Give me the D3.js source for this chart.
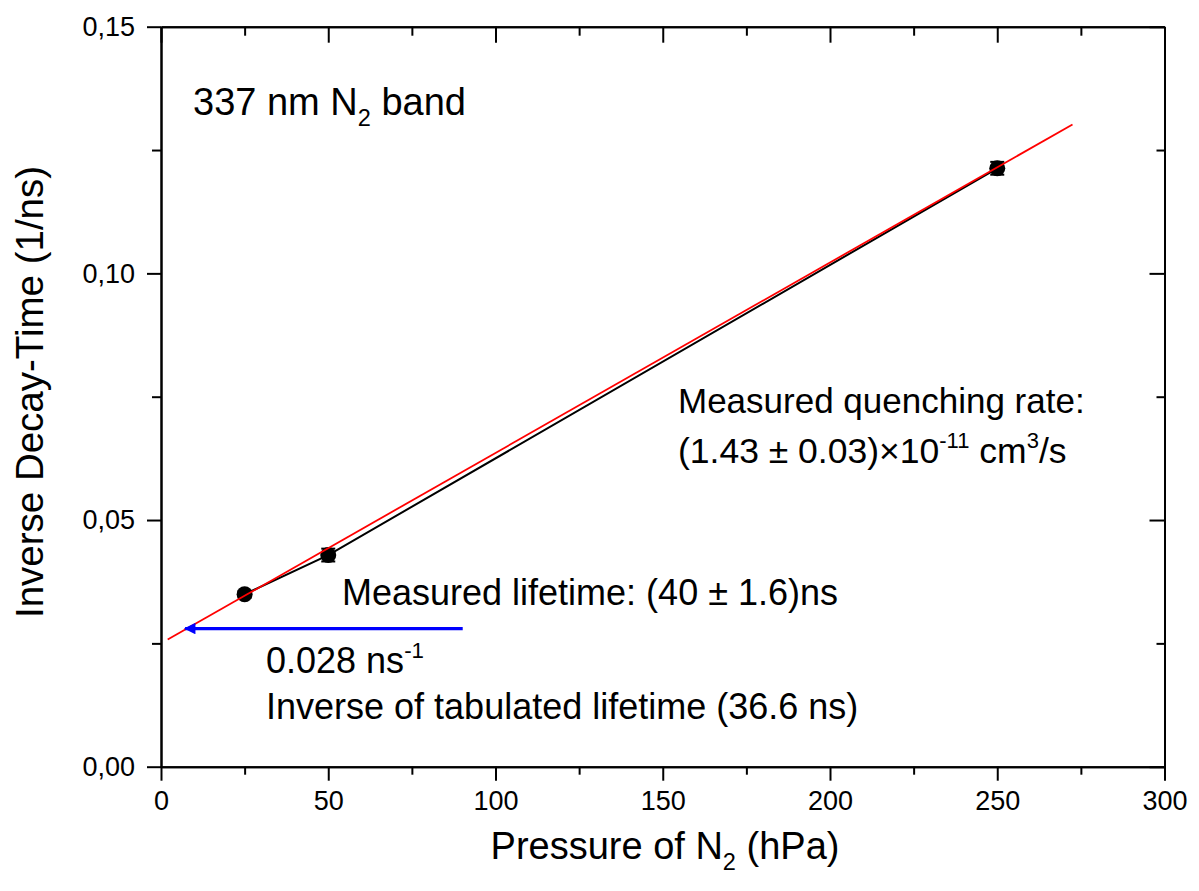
<!DOCTYPE html>
<html>
<head>
<meta charset="utf-8">
<script src="https://cdn.jsdelivr.net/npm/d3@7"></script>
<style>
  html, body { margin: 0; padding: 0; background: #fff; }
  svg { display: block; font-family: "Liberation Sans", Arial, sans-serif; }
</style>
</head>
<body>
<svg id="chart" width="1199" height="891"></svg>
<script>
// Measured inverse decay times of the 337 nm N2 band
const pressure = [25, 50, 250];              // hPa
const inverseDecay = [0.03495, 0.0429, 0.1213]; // 1/ns
const decayError = [0.0007, 0.0013, 0.0013];

// Linear (Stern-Volmer) fit: intercept = 1/40 ns
const fitIntercept = 0.025;
const fitSlope = 0.000386;
const fitRange = [2, 272.5];

// Tabulated radiative lifetime marker
const tabulatedInverse = 0.028;
const arrowRange = [90.2, 7.2];

const xTicks = [0, 50, 100, 150, 200, 250, 300];
const xMinorTicks = [25, 75, 125, 175, 225, 275];
const yTicks = [0, 0.05, 0.10, 0.15];
const yMinorTicks = [0.025, 0.075, 0.125];

const svg = d3.select("#chart");
const margin = { left: 161, top: 26.7, right: 1199 - 1164.5, bottom: 891 - 766.7 };
const W = 1199 - margin.left - margin.right;
const H = 891 - margin.top - margin.bottom;

const x = d3.scaleLinear().domain([0, 300]).range([0, W]);
const y = d3.scaleLinear().domain([0, 0.15]).range([H, 0]);

const g = svg.append("g").attr("transform", `translate(${margin.left},${margin.top})`);

const fmtY = d => d3.format(".2f")(d).replace(".", ",");

function styleAxis(sel) {
  sel.select(".domain").attr("stroke", "#000").attr("stroke-width", 2);
  sel.selectAll(".tick line").attr("stroke", "#000").attr("stroke-width", 2);
}

// minor ticks first, majors on top
g.append("g").attr("transform", `translate(0,${H})`)
  .call(d3.axisBottom(x).tickValues(xMinorTicks).tickSize(8).tickFormat("").tickSizeOuter(0))
  .call(styleAxis);
g.append("g")
  .call(d3.axisLeft(y).tickValues(yMinorTicks).tickSize(9).tickFormat("").tickSizeOuter(0))
  .call(styleAxis);
g.append("g")
  .call(d3.axisTop(x).tickValues(xMinorTicks).tickSize(-9).tickFormat("").tickSizeOuter(0))
  .call(styleAxis);
g.append("g").attr("transform", `translate(${W},0)`)
  .call(d3.axisRight(y).tickValues(yMinorTicks).tickSize(-8).tickFormat("").tickSizeOuter(0))
  .call(styleAxis);

const xAxis = g.append("g").attr("transform", `translate(0,${H})`)
  .call(d3.axisBottom(x).tickValues(xTicks).tickSize(14).tickPadding(10).tickSizeOuter(0))
  .call(styleAxis);
xAxis.selectAll(".tick text").attr("font-size", 27).attr("fill", "#000")
  .attr("font-family", "'Liberation Sans', Arial, sans-serif");

const yAxis = g.append("g")
  .call(d3.axisLeft(y).tickValues(yTicks).tickFormat(fmtY).tickSize(14).tickPadding(12).tickSizeOuter(0))
  .call(styleAxis);
yAxis.selectAll(".tick text").attr("font-size", 27).attr("fill", "#000")
  .attr("font-family", "'Liberation Sans', Arial, sans-serif");

g.append("g")
  .call(d3.axisTop(x).tickValues(xTicks).tickSize(-16).tickFormat("").tickSizeOuter(0))
  .call(styleAxis);
g.append("g").attr("transform", `translate(${W},0)`)
  .call(d3.axisRight(y).tickValues(yTicks).tickSize(-15).tickFormat("").tickSizeOuter(0))
  .call(styleAxis);

// data connected by a line
const pts = pressure.map((p, i) => ({ p, v: inverseDecay[i], e: decayError[i] }));
g.append("path")
  .datum(pts)
  .attr("fill", "none")
  .attr("stroke", "#000")
  .attr("stroke-width", 2)
  .attr("d", d3.line().x(d => x(d.p)).y(d => y(d.v)));

// error bars
const eb = g.append("g").attr("stroke", "#000").attr("stroke-width", 2);
pts.forEach(d => {
  eb.append("line").attr("x1", x(d.p)).attr("x2", x(d.p))
    .attr("y1", y(d.v - d.e)).attr("y2", y(d.v + d.e));
  [d.v - d.e, d.v + d.e].forEach(v => {
    eb.append("line").attr("x1", x(d.p) - 7).attr("x2", x(d.p) + 7)
      .attr("y1", y(v)).attr("y2", y(v));
  });
});

// markers
g.append("g").selectAll("circle").data(pts).join("circle")
  .attr("cx", d => x(d.p)).attr("cy", d => y(d.v)).attr("r", 8)
  .attr("fill", "#000");

// linear fit
g.append("line")
  .attr("x1", x(fitRange[0])).attr("y1", y(fitIntercept + fitSlope * fitRange[0]))
  .attr("x2", x(fitRange[1])).attr("y2", y(fitIntercept + fitSlope * fitRange[1]))
  .attr("stroke", "#ff0000").attr("stroke-width", 1.8);

// arrow to tabulated inverse lifetime
svg.append("defs").append("marker")
  .attr("id", "arrowHead")
  .attr("viewBox", "0 0 10 10")
  .attr("refX", 9).attr("refY", 5)
  .attr("markerWidth", 5.5).attr("markerHeight", 3.6)
  .attr("orient", "auto")
  .attr("markerUnits", "strokeWidth")
  .append("path").attr("d", "M0,0 L10,5 L0,10 Z").attr("fill", "#0000ff");

g.append("line")
  .attr("x1", x(arrowRange[0])).attr("x2", x(arrowRange[1]))
  .attr("y1", y(tabulatedInverse)).attr("y2", y(tabulatedInverse))
  .attr("stroke", "#0000ff").attr("stroke-width", 3.2)
  .attr("marker-end", "url(#arrowHead)");

// annotations: strings are plain runs, {sub}/{sup} are shifted small runs
function addText(xp, yp, size, parts) {
  const t = svg.append("text").attr("x", xp).attr("y", yp)
    .attr("font-size", size).attr("fill", "#000");
  let pendingDy = 0;
  parts.forEach(p => {
    if (typeof p === "string") {
      t.append("tspan").attr("dy", pendingDy).text(p);
      pendingDy = 0;
    } else if (p.sub) {
      const d = size * 0.28;
      t.append("tspan").attr("font-size", size * 0.62).attr("dy", pendingDy + d).text(p.sub);
      pendingDy = -d;
    } else if (p.sup) {
      const d = -size * 0.42;
      t.append("tspan").attr("font-size", size * 0.62).attr("dy", pendingDy + d).text(p.sup);
      pendingDy = -d;
    }
  });
  return t;
}

addText(193, 115, 38, ["337 nm N", { sub: "2" }, " band"]);
addText(678, 413, 35, ["Measured quenching rate:"]);
addText(678, 463, 35.5, ["(1.43 \u00b1 0.03)\u00d710", { sup: "-11" }, " cm", { sup: "3" }, "/s"]);
addText(342, 605, 36, ["Measured lifetime: (40 \u00b1 1.6)ns"]);
addText(266, 673, 36, ["0.028 ns", { sup: "-1" }]);
addText(266, 719, 36, ["Inverse of tabulated lifetime (36.6 ns)"]);

// axis titles
addText(665, 859, 38, ["Pressure of N", { sub: "2" }, " (hPa)"]).attr("text-anchor", "middle");
addText(0, 0, 38.5, ["Inverse Decay-Time (1/ns)"])
  .attr("text-anchor", "middle")
  .attr("transform", "translate(43,392) rotate(-90)");
</script>
</body>
</html>
